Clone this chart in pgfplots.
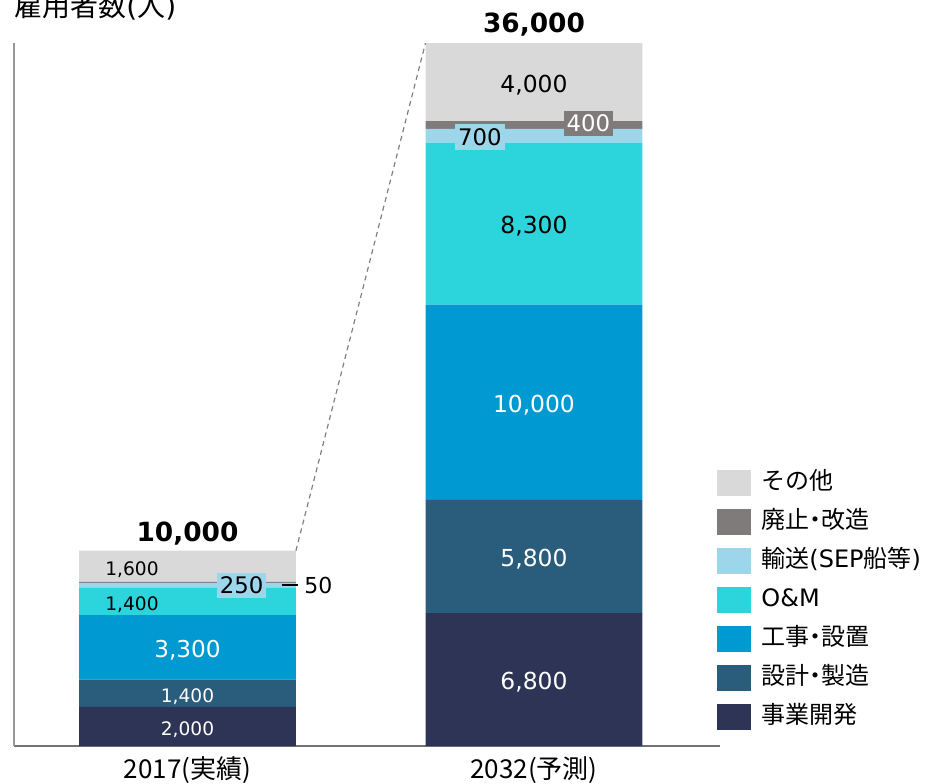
\documentclass[border=0pt]{standalone}
\usepackage{pgfplots}
\pgfplotsset{compat=1.18}
\usepackage{fontspec}
\setmainfont{DejaVu Sans}
\newfontfamily\cjk{Noto Sans CJK JP}
\definecolor{cOther}{HTML}{D9D9D9}
\definecolor{cDecom}{HTML}{7F7B7B}
\definecolor{cTrans}{HTML}{9DD5EA}
\definecolor{cOM}{HTML}{2CD5DB}
\definecolor{cInst}{HTML}{0099D1}
\definecolor{cDesign}{HTML}{2A5D7C}
\definecolor{cDev}{HTML}{2E3456}
\begin{document}
\begin{tikzpicture}
\useasboundingbox (-7pt,-18.5pt) rectangle (456pt,373pt);
\begin{axis}[
  scale only axis, width=353pt, height=351.5pt,
  xmin=-0.5007, xmax=1.537, ymin=0, ymax=36000,
  ybar stacked, bar width=0.626,
  axis x line=bottom, axis y line=left,
  x axis line style={-, draw=black!55, line width=1pt},
  y axis line style={-, draw=black!40, line width=0.6pt},
  ytick=\empty, xtick={0,1},
  xticklabels={{\cjk 2017(実績)},{\cjk 2032(予測)}},
  xticklabel style={font=\cjk\fontsize{13}{15}\selectfont, yshift=-2pt},
  major tick length=0pt,
  clip=false,
  reverse legend,
  legend image code/.code={\fill[#1] (0pt,-6.5pt) rectangle (17pt,6.5pt);},
  legend style={at={(0.9958,0.3926)}, anchor=north west, draw=none, fill=none,
    inner sep=0pt, row sep=6.5pt, column sep=5pt,
    nodes={inner sep=0pt, anchor=west, text height=9.5pt, text depth=3.5pt,
      font=\fontsize{12}{13}\selectfont}},
]
\addplot[fill=cDev, draw=none] coordinates {(0,2000) (1,6800)};
\addplot[fill=cDesign, draw=none] coordinates {(0,1400) (1,5800)};
\addplot[fill=cInst, draw=none] coordinates {(0,3300) (1,10000)};
\addplot[fill=cOM, draw=none] coordinates {(0,1400) (1,8300)};
\addplot[fill=cTrans, draw=none] coordinates {(0,250) (1,700)};
\addplot[fill=cDecom, draw=none] coordinates {(0,50) (1,400)};
\addplot[fill=cOther, draw=none] coordinates {(0,1600) (1,4000)};
\legend{{\cjk 事業開発},{\cjk 設計\kern-0.25em・\kern-0.25em製造},{\cjk 工事\kern-0.25em・\kern-0.25em設置},O\&M,{\cjk 輸送}(SEP{\cjk 船等}),{\cjk 廃止\kern-0.25em・\kern-0.25em改造},{\cjk その他}}

\coordinate (d1) at (axis cs:0.313,10000);
\coordinate (d2) at (axis cs:0.687,36000);
\coordinate (a1) at (axis cs:-0.16,9200);
\coordinate (a2) at (axis cs:-0.16,7400);
\coordinate (a3) at (axis cs:0,5050);
\coordinate (a4) at (axis cs:0,2700);
\coordinate (a5) at (axis cs:0,1000);
\coordinate (a6) at (axis cs:0.156,8219);
\coordinate (a7) at (axis cs:0.273,8245);
\coordinate (a8) at (axis cs:0,11010);
\coordinate (b1) at (axis cs:1,34000);
\coordinate (b2) at (axis cs:0.844,31186);
\coordinate (b3) at (axis cs:1.157,31878);
\coordinate (b4) at (axis cs:1,26750);
\coordinate (b5) at (axis cs:1,17600);
\coordinate (b6) at (axis cs:1,9700);
\coordinate (b7) at (axis cs:1,3400);
\coordinate (b8) at (axis cs:1,37075);
\coordinate (yl) at ([yshift=18pt]axis description cs:0,1);
\end{axis}

\draw[black!50, line width=0.6pt, dash pattern=on 2.5pt off 2pt] (d1) -- (d2);
\begin{scope}[every node/.append style={yshift=-1.5pt}]
% 2017 labels
\node[font=\fontsize{9.3}{11}\selectfont] at (a1) {1,600};
\node[font=\fontsize{9.3}{11}\selectfont] at (a2) {1,400};
\node[font=\fontsize{11.6}{13}\selectfont, text=white] at (a3) {3,300};
\node[font=\fontsize{9.3}{11}\selectfont, text=white] at (a4) {1,400};
\node[font=\fontsize{9.3}{11}\selectfont, text=white] at (a5) {2,000};
\node[font=\bfseries\fontsize{13.2}{15}\selectfont] at (a8) {10,000};
% 2032 labels
\node[font=\fontsize{11.7}{13}\selectfont] at (b1) {4,000};
\node[font=\fontsize{11.7}{13}\selectfont] at (b4) {8,300};
\node[font=\fontsize{11.7}{13}\selectfont, text=white] at (b5) {10,000};
\node[font=\fontsize{11.7}{13}\selectfont, text=white] at (b6) {5,800};
\node[font=\fontsize{11.7}{13}\selectfont, text=white] at (b7) {6,800};
\node[font=\bfseries\fontsize{13.2}{15}\selectfont] at (b8) {36,000};
\end{scope}
\node[font=\fontsize{11.4}{13}\selectfont, fill=cTrans, inner xsep=1.5pt, inner ysep=2pt] at (a6) {250};
\node[font=\fontsize{11}{13}\selectfont, anchor=west, inner sep=0pt] at (a7) {\rule[0.3em]{8pt}{1.1pt}\hspace{3pt}50};
\node[font=\fontsize{11.4}{13}\selectfont, fill=cTrans, inner xsep=1.5pt, inner ysep=2pt] at (b2) {700};
\node[font=\fontsize{11.4}{13}\selectfont, fill=cDecom, text=white, inner xsep=1.5pt, inner ysep=2pt] at (b3) {400};
\node[anchor=west, inner sep=0pt, font=\fontsize{14}{16}\selectfont] at (yl) {{\cjk 雇用者数}({\cjk 人})};
\end{tikzpicture}
\end{document}
